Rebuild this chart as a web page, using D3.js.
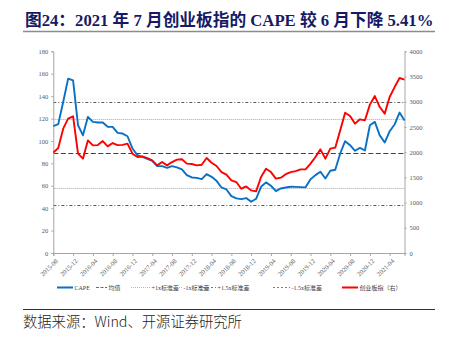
<!DOCTYPE html>
<html><head><meta charset="utf-8">
<script src="https://cdn.jsdelivr.net/npm/d3@7"></script>
<style>
html,body{margin:0;padding:0;background:#fff;}
svg{display:block;}
</style>
</head><body>
<svg id="c" width="453" height="340"></svg>
<script>
// ---------- data ----------
const months = [];
(function(){ let y=2015, m=8; for(let i=0;i<72;i++){ months.push(y+"-"+String(m).padStart(2,"0")); m++; if(m>12){m=1;y++;} } })();

const cape = [113.2,115,134.8,155.6,154,114,105,121.5,117,116.5,116.5,112.6,
  112.6,107.2,106.6,104.2,93.3,87.3,85.8,84,82.2,77.5,77.5,76,
  77.5,76.4,74.6,69.5,67.4,67,65.9,70.4,68,64.4,58.5,56.7,
  50.8,48.7,48.1,49,45.7,48.4,59.1,63,60,55.2,57.6,58.5,
  59.1,59,58.8,58.6,65.9,69.5,72.5,66.5,73.4,74.3,88.8,99.8,
  96.2,91.2,93.8,91.5,114,117,105,98.6,108.7,114.7,125.3,118.2];

const chinext = [1990,2081,2466,2664,2710,1970,1871,2234,2135,2140,2220,2115,
  2180,2140,2145,2168,1970,1903,1915,1883,1837,1738,1804,1738,
  1804,1851,1858,1772,1765,1738,1751,1883,1791,1725,1605,1553,
  1440,1407,1275,1321,1242,1222,1506,1672,1605,1474,1494,1563,
  1605,1625,1658,1658,1772,1903,2055,1871,2069,2089,2432,2783,
  2716,2565,2651,2631,2942,3113,2895,2764,3093,3291,3470,3438];

const refNames = ["均值","+1x标准差","-1x标准差","+1.5x标准差","-1.5x标准差"];
const refValues = [89.1, 119.7, 57.8, 135.2, 42.6];

const leftTicks = [0,20,40,60,80,100,120,140,160,180];
const rightTicks = [0,500,1000,1500,2000,2500,3000,3500,4000];
const xTickLabels = months.filter((d,i)=>i%4===0);

const titleText = "图24：2021 年 7 月创业板指的 CAPE 较 6 月下降 5.41%";
const sourceText = "数据来源：Wind、开源证券研究所";
const legendNames = ["CAPE","均值","+1x标准差","-1x标准差","+1.5x标准差","-1.5x标准差","创业板指（右）"];

// ---------- drawing ----------
const svg = d3.select("#c");
const L=53.3, R=404.5, T=51.3, B=253;
const serif = "'Liberation Serif','Times New Roman','Noto Sans CJK SC',serif";
const x = d3.scalePoint().domain(months).range([L,R]);
const yL = d3.scaleLinear().domain([0,180]).range([B,T]);
const yR = d3.scaleLinear().domain([0,4000]).range([B,T]);
const snap = v => Math.round(v) + 0.5;

// title
svg.append("text").attr("x",25).attr("y",25.5)
  .attr("font-family",serif).attr("font-weight","bold").attr("font-size",16.7)
  .attr("fill","#161a66").text(titleText);
svg.append("line").attr("x1",23).attr("x2",435).attr("y1",31.5).attr("y2",31.5)
  .attr("stroke","#8c8c8c").attr("stroke-width",1.6);

// reference line styles
const refStyles = [
  {c:"#404040", d:"5,2.5", w:1},
  {c:"#a8a8a8", d:"1,1", w:1},
  {c:"#a8a8a8", d:"1,1", w:1},
  {c:"#595959", d:"3,2,1,2", w:1},
  {c:"#595959", d:"3,2,1,2", w:1}
];
refValues.forEach((v,i)=>{
  const yy = snap(yL(v));
  svg.append("line").attr("x1",L).attr("x2",R).attr("y1",yy).attr("y2",yy)
    .attr("stroke",refStyles[i].c).attr("stroke-dasharray",refStyles[i].d).attr("stroke-width",refStyles[i].w);
});

// axes
const axL = svg.append("g").attr("transform",`translate(${L},0)`)
  .call(d3.axisLeft(yL).tickValues(leftTicks).tickSize(2).tickPadding(3).tickFormat(d3.format("d")));
const axR = svg.append("g").attr("transform",`translate(${R},0)`)
  .call(d3.axisRight(yR).tickValues(rightTicks).tickSize(2).tickPadding(3).tickFormat(d3.format("d")));
const axB = svg.append("g").attr("transform",`translate(0,${B})`)
  .call(d3.axisBottom(x).tickValues(xTickLabels).tickSize(3).tickPadding(2));
[axL,axR,axB].forEach(g=>{
  g.select(".domain").attr("stroke","#a6a6a6").attr("stroke-width",1);
  g.selectAll(".tick line").attr("stroke","#a6a6a6");
  g.selectAll("text").attr("font-family",serif).attr("font-size",6.5).attr("fill","#595959");
});
axB.selectAll("text").attr("text-anchor","end").attr("dy",0)
  .attr("transform","translate(1,5) rotate(-45)");

// lines
const lineL = d3.line().x((d,i)=>x(months[i])).y(d=>yL(d));
const lineR = d3.line().x((d,i)=>x(months[i])).y(d=>yR(d));
svg.append("path").datum(cape).attr("d",lineL).attr("fill","none")
  .attr("stroke","#0a70c4").attr("stroke-width",1.9).attr("stroke-linejoin","round");
svg.append("path").datum(chinext).attr("d",lineR).attr("fill","none")
  .attr("stroke","#ff0000").attr("stroke-width",1.9).attr("stroke-linejoin","round");

// legend
const legStyles = [
  {c:"#0a70c4", d:null, w:2, x:57, len:16},
  {c:refStyles[0].c, d:"3,1.5", w:0.8, x:96, len:11},
  {c:"#999", d:"1,1", w:0.7, x:131, len:19},
  {c:"#999", d:"1,1", w:0.7, x:163, len:19},
  {c:"#404040", d:"2,2", w:0.7, x:195, len:21},
  {c:"#404040", d:"2,2", w:0.7, x:273, len:17},
  {c:"#ff0000", d:null, w:2, x:342, len:16}
];
const legY = 287.5;
legendNames.forEach((n,i)=>{
  const s = legStyles[i];
  svg.append("line").attr("x1",s.x).attr("x2",s.x+s.len).attr("y1",legY).attr("y2",legY)
    .attr("stroke",s.c).attr("stroke-width",s.w).attr("stroke-dasharray",s.d);
  svg.append("text").attr("x",s.x+s.len+1.5).attr("y",legY+2)
    .attr("font-family",serif).attr("font-size",6).attr("fill","#404040").text(n);
});

// bottom rule + source
svg.append("line").attr("x1",23).attr("x2",435).attr("y1",309.5).attr("y2",309.5)
  .attr("stroke","#333").attr("stroke-width",1);
svg.append("text").attr("x",23).attr("y",327)
  .attr("font-family","'Noto Sans CJK SC',sans-serif").attr("font-size",14.3).attr("font-weight",300)
  .attr("fill","#222").text(sourceText);
</script>
</body></html>
